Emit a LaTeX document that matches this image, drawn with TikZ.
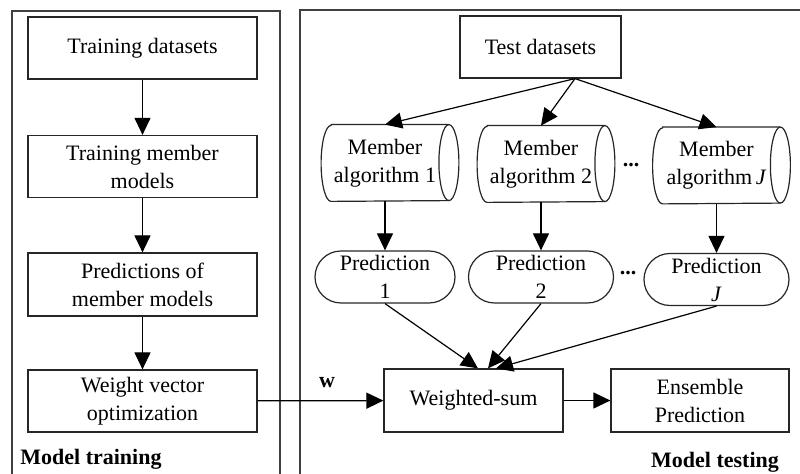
\documentclass[tikz,border=0pt]{standalone}
\usepackage{fontspec}
\setmainfont{Liberation Serif}
\usetikzlibrary{arrows.meta,calc}
\begin{document}
\begin{tikzpicture}[x=0.5pt,y=-0.5pt,
  font=\fontsize{11}{14}\selectfont,
  box/.style={draw=black!85, line width=0.6pt, inner sep=0pt, align=center},
  lbox/.style={box, minimum width=114.5pt, minimum height=31pt},
  cyl/.style={inner sep=0pt, align=center, minimum width=63.5pt, minimum height=38pt},
  pred/.style={box, rounded corners=13pt, minimum width=70pt, minimum height=26pt},
  arr/.style={-{Triangle[length=8.5pt,width=8pt]}, line width=0.6pt},
  frame/.style={draw=black!75, line width=0.8pt},
  lbl/.style={font=\fontsize{11}{14}\selectfont\bfseries, inner sep=0pt}]
\clip (0,0) rectangle (800,474);
% frames
\draw[frame] (12,490) -- (12,11) -- (280,11) -- (280,490);
\draw[frame] (300,490) -- (300,10) -- (820,10);
% left column
\node[lbox] (td) at (142.5,48) {Training datasets};
\node[lbox] (tm) at (142.5,166.5) {Training member\\models};
\node[lbox, minimum height=31.5pt] (pm) at (142.5,284.5) {Predictions of\\member models};
\node[lbox] (wv) at (142.5,401) {Weight vector\\optimization};
\node[lbl, anchor=base west] (lt) at (20,465) {Model training};
% right part
\node[box, minimum width=80.5pt, minimum height=31pt] (test) at (540.5,47) {Test datasets};
\node[cyl] (c1) at (385,163) {Member\\algorithm 1};
\node[cyl] (c2) at (541,164) {Member\\algorithm 2};
\node[cyl] (cJ) at (716.5,165.5) {Member\\algorithm\,\textit{J}};
\foreach \n in {c1,c2,cJ}{
  \draw[draw=black!85, line width=0.6pt] ([xshift=5pt]\n.north west) -- (\n.north east)
    arc[start angle=90, end angle=-90, x radius=5pt, y radius=19pt]
    -- ([xshift=5pt]\n.south west)
    arc[start angle=270, end angle=90, x radius=5pt, y radius=19pt] -- cycle;
  \draw[draw=black!85, line width=0.6pt] (\n.north east)
    arc[start angle=90, end angle=270, x radius=5pt, y radius=19pt];
}
\node[pred] (p1) at (385,277) {Prediction\\1};
\node[pred, minimum width=72.5pt] (p2) at (541,277) {Prediction\\2};
\node[pred, minimum width=72.5pt] (pJ) at (716.5,279.5) {Prediction\\\textit{J}};
\node[lbl, anchor=base] (d1) at (631,167) {...};
\node[lbl, anchor=base] (d2) at (628,275) {...};
\node[box, minimum width=89.5pt, minimum height=31.5pt] (ws) at (473.5,400.5) {Weighted-sum};
\node[box, minimum width=89pt, minimum height=31.5pt] (ens) at (700,400.5) {Ensemble\\Prediction};
\node[lbl] (w) at (327,383) {w};
\node[lbl, anchor=base] (lr) at (715,468) {Model testing};
% connectors
\draw[arr] (td) -- (tm);
\draw[arr] (tm) -- (pm);
\draw[arr] (pm) -- (wv);
\draw[arr] (wv) -- (ws);
\draw[arr] (ws) -- (ens);
\coordinate (ts) at ($(test.south)+(34.5,0)$);
\draw[arr] (ts) -- (c1.north);
\draw[arr] (ts) -- (c2.north);
\draw[arr] (ts) -- (cJ.north);
\draw[arr] (c1) -- (p1);
\draw[arr] (c2) -- (p2);
\draw[arr] (cJ) -- (pJ);
\draw[arr] (p1.south) -- ($(ws.north)+(4.5,0)$);
\draw[arr] (p2.south) -- ($(ws.north)+(14.5,0)$);
\draw[arr] (pJ.south) -- ($(ws.north)+(22.5,0)$);
\end{tikzpicture}
\end{document}
